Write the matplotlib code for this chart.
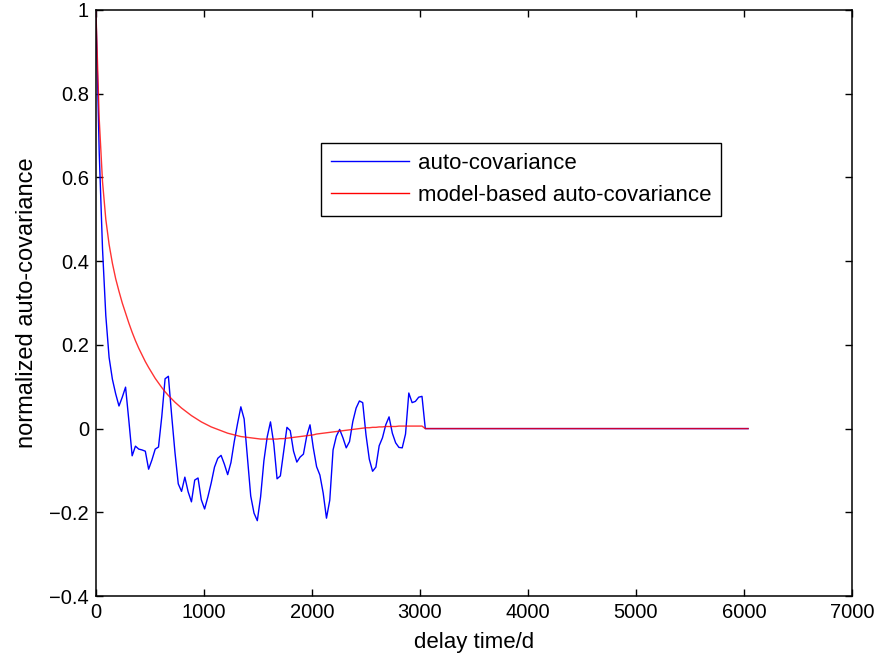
import numpy as np
import matplotlib
matplotlib.use('Agg')
import matplotlib.pyplot as plt

plt.rcParams['font.family'] = ['Liberation Sans', 'DejaVu Sans']

# lag step in days (monthly samples) and total number of lags
lag_step = 30.5
n_lags = 199

# sample auto-covariance, first 100 lags (zero afterwards)
acov_head = [
    1.000, 0.660, 0.430, 0.270, 0.170, 0.118, 0.083, 0.054, 0.075, 0.099,
    0.019, -0.065, -0.042, -0.049, -0.051, -0.054, -0.097, -0.075, -0.049, -0.044,
    0.029, 0.119, 0.125, 0.031, -0.057, -0.132, -0.150, -0.116, -0.151, -0.175,
    -0.123, -0.118, -0.170, -0.192, -0.163, -0.130, -0.092, -0.071, -0.064, -0.085,
    -0.110, -0.081, -0.031, 0.012, 0.052, 0.023, -0.070, -0.161, -0.202, -0.220,
    -0.163, -0.077, -0.020, 0.016, -0.036, -0.120, -0.113, -0.054, 0.003, -0.005,
    -0.054, -0.080, -0.068, -0.061, -0.018, 0.009, -0.046, -0.091, -0.111, -0.154,
    -0.214, -0.171, -0.051, -0.018, -0.002, -0.022, -0.046, -0.031, 0.017, 0.049,
    0.066, 0.062, -0.015, -0.073, -0.102, -0.092, -0.041, -0.022, 0.009, 0.028,
    -0.011, -0.034, -0.045, -0.046, -0.013, 0.085, 0.062, 0.065, 0.075, 0.077,
]

# model-based auto-covariance, first 100 lags (zero afterwards)
model_head = [
    1.000, 0.740, 0.590, 0.500, 0.440, 0.395, 0.358, 0.328, 0.300, 0.276,
    0.252, 0.230, 0.210, 0.192, 0.176, 0.160, 0.146, 0.133, 0.120, 0.109,
    0.098, 0.088, 0.079, 0.071, 0.063, 0.056, 0.049, 0.043, 0.037, 0.031,
    0.026, 0.021, 0.016, 0.012, 0.008, 0.004, 0.001, -0.002, -0.005, -0.008,
    -0.011, -0.013, -0.015, -0.017, -0.019, -0.020, -0.021, -0.022, -0.023, -0.024,
    -0.025, -0.025, -0.025, -0.025, -0.025, -0.025, -0.024, -0.024, -0.023, -0.022,
    -0.021, -0.020, -0.019, -0.018, -0.017, -0.016, -0.015, -0.013, -0.012, -0.011,
    -0.010, -0.009, -0.008, -0.007, -0.006, -0.005, -0.004, -0.003, -0.002, -0.001,
    0.000, 0.001, 0.002, 0.002, 0.003, 0.003, 0.004, 0.004, 0.005, 0.005,
    0.005, 0.005, 0.006, 0.006, 0.006, 0.006, 0.006, 0.006, 0.006, 0.006,
]

lags = np.arange(n_lags) * lag_step
acov = np.concatenate([acov_head, np.zeros(n_lags - len(acov_head))])
model = np.concatenate([model_head, np.zeros(n_lags - len(model_head))])

fig = plt.figure(figsize=(8.8, 6.57), dpi=100)
ax = fig.add_axes([0.109, 0.0928, 0.859, 0.892])

ax.plot(lags, acov, color='#0000ff', lw=1.0, label='auto-covariance')
ax.plot(lags, model, color='#ff0000', lw=1.0, alpha=0.8, label='model-based auto-covariance')

ax.set_xlim(0, 7000)
ax.set_ylim(-0.4, 1.0)
ax.set_xticks(np.arange(0, 7001, 1000))
ax.set_yticks(np.arange(-0.4, 1.01, 0.2))
ax.set_yticklabels(['\u22120.4', '\u22120.2', '0', '0.2', '0.4', '0.6', '0.8', '1'])

ax.tick_params(direction='in', length=5, width=1.0, top=True, right=True,
               labelsize=14.5, pad=5)
for s in ax.spines.values():
    s.set_linewidth(1.1)

ax.set_xlabel('delay time/d', fontsize=16, labelpad=7)
ax.set_ylabel('normalized auto-covariance', fontsize=17, labelpad=8)

leg = ax.legend(loc='upper left', bbox_to_anchor=(0.298, 0.773), borderaxespad=0,
                fontsize=16, frameon=True, fancybox=False, framealpha=1,
                edgecolor='black', handlelength=3.5, handletextpad=0.4,
                labelspacing=0.5, borderpad=0.45)
leg.get_frame().set_linewidth(1.0)
for line in leg.get_lines():
    line.set_alpha(1.0)

fig.savefig('out.png', dpi=100)
